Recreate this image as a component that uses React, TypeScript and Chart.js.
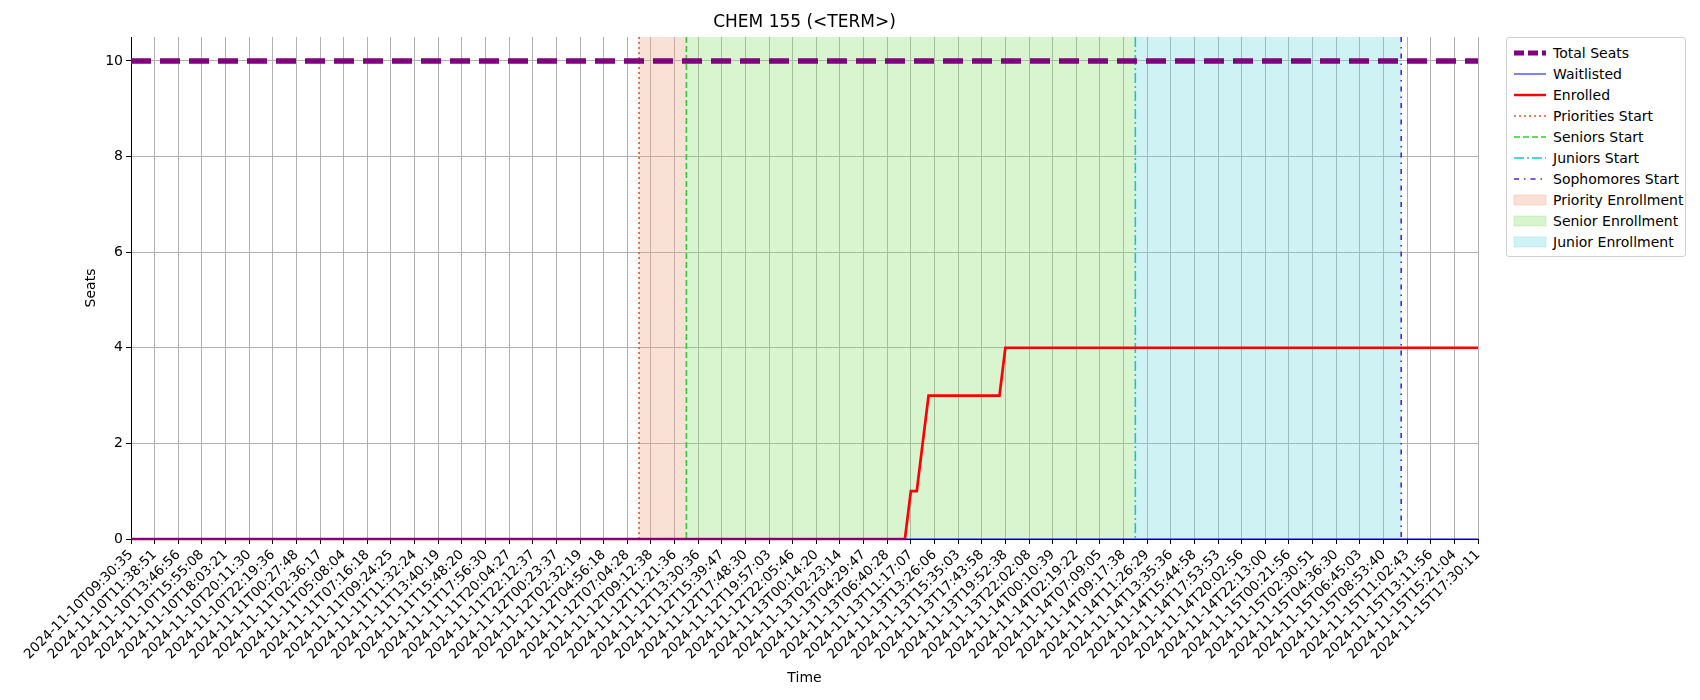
import React, { useEffect, useRef } from "react";
import { Chart, registerables } from "chart.js";
Chart.register(...registerables);

const tickLabels = [
  "2024-11-10T09:30:35","2024-11-10T11:38:51","2024-11-10T13:46:56","2024-11-10T15:55:08","2024-11-10T18:03:21","2024-11-10T20:11:30","2024-11-10T22:19:36",
  "2024-11-11T00:27:48","2024-11-11T02:36:17","2024-11-11T05:08:04","2024-11-11T07:16:18","2024-11-11T09:24:25","2024-11-11T11:32:24","2024-11-11T13:40:19","2024-11-11T15:48:20","2024-11-11T17:56:30","2024-11-11T20:04:27","2024-11-11T22:12:37",
  "2024-11-12T00:23:37","2024-11-12T02:32:19","2024-11-12T04:56:18","2024-11-12T07:04:28","2024-11-12T09:12:38","2024-11-12T11:21:36","2024-11-12T13:30:36","2024-11-12T15:39:47","2024-11-12T17:48:30","2024-11-12T19:57:03","2024-11-12T22:05:46",
  "2024-11-13T00:14:20","2024-11-13T02:23:14","2024-11-13T04:29:47","2024-11-13T06:40:28","2024-11-13T11:17:07","2024-11-13T13:26:06","2024-11-13T15:35:03","2024-11-13T17:43:58","2024-11-13T19:52:38","2024-11-13T22:02:08",
  "2024-11-14T00:10:39","2024-11-14T02:19:22","2024-11-14T07:09:05","2024-11-14T09:17:38","2024-11-14T11:26:29","2024-11-14T13:35:36","2024-11-14T15:44:58","2024-11-14T17:53:53","2024-11-14T20:02:56","2024-11-14T22:13:00",
  "2024-11-15T00:21:56","2024-11-15T02:30:51","2024-11-15T04:36:30","2024-11-15T06:45:03","2024-11-15T08:53:40","2024-11-15T11:02:43","2024-11-15T13:11:56","2024-11-15T15:21:04","2024-11-15T17:30:11",
];
const tickStep = 4;
const lastIndex = (tickLabels.length - 1) * tickStep;
const totalSeats = 10;
const waitlisted = 0;
const enrolledIdx = [0, 131, 132, 133, 135, 147, 148, lastIndex];
const enrolledVal = [0, 0, 1, 1, 3, 3, 4, 4];
const eventNames = ["Priorities Start", "Seniors Start", "Juniors Start", "Sophomores Start"];
const eventIdx = [86, 94, 170, 215];
const eventColors = ["#e8542a", "#32cd32", "#17c6cf", "#5a1fd6"];
const eventDash = [[2, 3], [6, 3], [10, 3, 2, 3], [5, 5, 1.5, 5]];
const spanNames = ["Priority Enrollment", "Senior Enrollment", "Junior Enrollment"];
const spanColors = ["rgba(240,170,135,0.35)", "rgba(140,225,110,0.33)", "rgba(110,220,225,0.33)"];

const FONT = "DejaVu Sans";

const overlay = {
  id: "overlay",
  beforeDatasetsDraw(chart: any) {
    const { ctx, chartArea: a, scales } = chart;
    const x = scales.x;
    ctx.save();
    for (let i = 0; i < 3; i++) {
      const x0 = x.getPixelForValue(eventIdx[i]);
      const x1 = x.getPixelForValue(eventIdx[i + 1]);
      ctx.fillStyle = spanColors[i];
      ctx.fillRect(x0, a.top, x1 - x0, a.bottom - a.top);
    }
    for (let i = 0; i < 4; i++) {
      const px = x.getPixelForValue(eventIdx[i]);
      ctx.strokeStyle = eventColors[i];
      ctx.lineWidth = 1.6;
      ctx.setLineDash(eventDash[i]);
      ctx.beginPath();
      ctx.moveTo(px, a.top);
      ctx.lineTo(px, a.bottom);
      ctx.stroke();
    }
    ctx.restore();
  },
  afterDraw(chart: any) {
    const { ctx, chartArea: a } = chart;
    ctx.save();
    ctx.fillStyle = "#000";
    ctx.textAlign = "center";
    ctx.font = `17px '${FONT}'`;
    ctx.textBaseline = "middle";
    ctx.fillText("CHEM 155 (<TERM>)", (a.left + a.right) / 2, 23);
    ctx.font = `14px '${FONT}'`;
    ctx.fillText("Time", (a.left + a.right) / 2, 678);
    ctx.translate(91, (a.top + a.bottom) / 2);
    ctx.rotate(-Math.PI / 2);
    ctx.fillText("Seats", 0, 0);
    ctx.restore();
  },
};

type LegendItem = { name: string; kind: "line" | "box"; color: string; width?: number; dash?: number[] };
const legendItems: LegendItem[] = [
  { name: "Total Seats", kind: "line", color: "purple", width: 5, dash: [10, 4] },
  { name: "Waitlisted", kind: "line", color: "blue", width: 1 },
  { name: "Enrolled", kind: "line", color: "red", width: 2.5 },
  ...eventNames.map((n, i) => ({ name: n, kind: "line" as const, color: eventColors[i], width: 1.6, dash: eventDash[i] })),
  ...spanNames.map((n, i) => ({ name: n, kind: "box" as const, color: spanColors[i] })),
];

export default function App() {
  const ref = useRef<HTMLCanvasElement>(null);
  useEffect(() => {
    const chart = new Chart(ref.current!, {
      type: "line",
      data: {
        datasets: [
          { label: "Total Seats", data: [{ x: 0, y: totalSeats }, { x: lastIndex, y: totalSeats }], borderColor: "purple", borderWidth: 5.5, borderDash: [20, 9], pointRadius: 0 },
          { label: "Waitlisted", data: [{ x: 0, y: waitlisted }, { x: lastIndex, y: waitlisted }], borderColor: "blue", borderWidth: 1, pointRadius: 0, clip: 3 },
          { label: "Enrolled", data: enrolledIdx.map((x, i) => ({ x, y: enrolledVal[i] })), borderColor: "red", borderWidth: 2.7, pointRadius: 0, clip: 3 },
        ],
      },
      options: {
        animation: false,
        responsive: false,
        layout: { padding: { top: 37, right: 222, left: 0, bottom: 0 } },
        plugins: { legend: { display: false }, tooltip: { enabled: false }, title: { display: false } },
        scales: {
          x: {
            type: "linear", min: 0, max: lastIndex,
            afterFit: (s: any) => { s.height = 161; },
            afterBuildTicks: (s: any) => { s.ticks = tickLabels.map((_, i) => ({ value: i * tickStep })); },
            ticks: {
              autoSkip: false, maxRotation: 45, minRotation: 45, color: "#000",
              font: { family: FONT, size: 13.5 },
              callback: (v: any) => tickLabels[Math.round(v / tickStep)],
            },
            grid: { color: "#b0b0b0", tickColor: "#000", tickLength: 5 },
            border: { color: "#000" },
          },
          y: {
            min: 0, max: 10.5,
            afterFit: (s: any) => { s.width = 131; },
            afterBuildTicks: (s: any) => { s.ticks = [0, 2, 4, 6, 8, 10].map((value) => ({ value })); },
            ticks: { color: "#000", font: { family: FONT, size: 14 } },
            grid: { color: "#b0b0b0", tickColor: "#000", tickLength: 5 },
            border: { color: "#000" },
          },
        },
      },
      plugins: [overlay],
    } as any);
    return () => chart.destroy();
  }, []);
  return (
    <div style={{ position: "absolute", left: 0, top: 0, width: 1700, height: 700, background: "#fff" }}>
      <canvas ref={ref} width={1700} height={700} style={{ width: 1700, height: 700 }} />
      <div style={{ position: "absolute", left: 1506, top: 37, width: 178, border: "1px solid #d0d0d0", borderRadius: 3, padding: "4px 0", fontFamily: FONT, fontSize: 14, background: "#fff" }}>
        {legendItems.map((it) => (
          <div key={it.name} style={{ display: "flex", alignItems: "center", height: 21 }}>
            <svg width={46} height={14} style={{ flex: "none" }}>
              {it.kind === "line" ? (
                <line x1={7} x2={39} y1={7} y2={7} stroke={it.color} strokeWidth={it.width} strokeDasharray={it.dash ? it.dash.join(" ") : undefined} />
              ) : (
                <rect x={7} y={2} width={32} height={10} fill={it.color} stroke={it.color} />
              )}
            </svg>
            <span>{it.name}</span>
          </div>
        ))}
      </div>
    </div>
  );
}
